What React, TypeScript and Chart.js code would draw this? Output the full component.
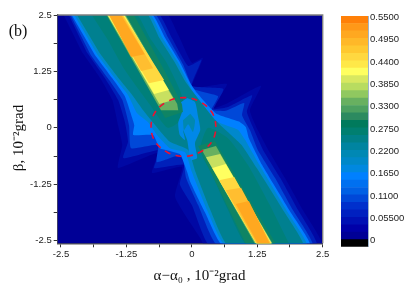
import React, { useEffect, useRef } from "react";
import { Chart, registerables } from "chart.js";

Chart.register(...registerables);

type P = [number, number];

const xTicks = [-2.5, -1.875, -1.25, -0.625, 0, 0.625, 1.25, 1.875, 2.5];
const yTicks = [-2.5, -1.875, -1.25, -0.625, 0, 0.625, 1.25, 1.875, 2.5];
const labelled = [-2.5, -1.25, 0, 1.25, 2.5];
const xTitle = "α−α₀ , 10⁻²grad";
const yTitle = "β, 10⁻²grad";
const panelLabel = "(b)";

const colorbarTicks = [0, 0.055, 0.11, 0.165, 0.22, 0.275, 0.33, 0.385, 0.44, 0.495, 0.55];
const colorbarLabels = ["0", "0.05500", "0.1100", "0.1650", "0.2200", "0.2750", "0.3300", "0.3850", "0.4400", "0.4950", "0.5500"];
const colorbarEdges = [0.0025, 0.0209, 0.0392, 0.0576, 0.0759, 0.0943, 0.1127, 0.131, 0.1494, 0.1677, 0.1861, 0.2045, 0.2228, 0.2412, 0.2595, 0.2779, 0.2963, 0.3146, 0.333, 0.3513, 0.3697, 0.3881, 0.4064, 0.4248, 0.4431, 0.4615, 0.4799, 0.4982, 0.5166, 0.5349, 0.5533];
const colorbarColors = ["#000096", "#0000A8", "#0010B4", "#0020C0", "#0030CC", "#0048D8", "#0060E4", "#0070F0", "#0080FF", "#0088E0", "#0088C8", "#0088B4", "#0084A0", "#008088", "#007F70", "#007A5C", "#2C8A60", "#4CA060", "#68B060", "#90C860", "#B8DC60", "#D8E860", "#FFFF60", "#FFE848", "#FFD840", "#FFC830", "#FFB828", "#FFA820", "#FF9818", "#FF8008"];
const colorbarBelow: P = [-0.0148, 0.0025];

const plotFrame: P[] = [[-2.7, 2.7], [2.7, 2.7], [2.7, -2.7], [-2.7, -2.7]];

const contourA: P[] = [[-2.48, 2.57], [-0.51, 2.57], [-0.26, 2.06], [0, 1.44], [0.21, 1.55], [-0.03, 0.84], [0.1, 0.88], [0.67, 0.97], [0.41, 0.44], [0.69, 0.55], [1.32, 0.93], [1.11, 0.39], [1.26, -0.05], [1.46, -0.49], [1.78, -1.11], [2.12, -1.82], [2.49, -2.62], [0.25, -2.62], [0.16, -2.44], [-0.32, -1.53], [-0.19, -0.87], [-0.76, -1.0], [-0.66, -0.56], [-1.41, -0.89], [-1.33, -0.38], [-1.41, 0.06], [-1.52, 0.62], [-1.75, 1.1], [-2.1, 1.68]];
const contourB: P[] = [[-2.38, 2.57], [-0.67, 2.57], [-0.38, 1.99], [-0.07, 1.37], [0.18, 1.5], [0, 0.93], [0.6, 0.86], [0.42, 0.42], [0.69, 0.46], [1.15, 0.72], [1.05, 0.36], [1.19, -0.05], [1.36, -0.49], [1.69, -1.11], [2.03, -1.82], [2.39, -2.62], [0.35, -2.62], [0, -1.71], [-0.23, -1.25], [-0.15, -0.82], [-0.72, -0.89], [-0.61, -0.49], [-1.31, -0.67], [-1.22, -0.31], [-1.28, 0.13], [-1.41, 0.62], [-1.66, 1.1], [-2.01, 1.68]];
const contourC: P[] = [[-2.35, 2.57], [-0.74, 2.57], [-0.45, 1.99], [-0.17, 1.41], [0.04, 0.86], [0.5, 0.7], [0.38, 0.4], [0.65, 0.38], [1.0, 0.55], [0.96, 0.28], [1.11, -0.05], [1.26, -0.49], [1.59, -1.11], [1.93, -1.82], [2.31, -2.62], [0.5, -2.62], [0.12, -1.71], [-0.11, -1.11], [-0.19, -0.6], [-0.67, -0.76], [-0.65, -0.38], [-1.16, -0.45], [-1.2, 0.06], [-1.33, 0.62], [-1.58, 1.06], [-1.93, 1.61]];
const contourD: P[] = [[-2.33, 2.57], [-0.8, 2.57], [-0.51, 1.99], [-0.23, 1.46], [-0.03, 0.99], [0.1, 0.77], [0.46, 0.32], [0.9, 0.14], [1.03, 0.02], [1.09, -0.23], [1.34, -0.82], [1.88, -1.86], [2.26, -2.62], [0.6, -2.62], [0.25, -1.87], [-0.03, -1.2], [-0.09, -0.98], [-0.23, -0.58], [-0.61, -0.45], [-0.74, -0.16], [-1.12, -0.16], [-1.1, 0.06], [-1.14, 0.22], [-1.28, 0.7], [-1.52, 1.1], [-1.85, 1.61]];
const contourE: P[] = [[-2.28, 2.57], [-0.84, 2.57], [-0.56, 1.99], [-0.27, 1.46], [-0.08, 1.01], [0.06, 0.73], [0.5, 0.13], [0.88, -0.04], [1.02, -0.27], [1.29, -0.82], [1.83, -1.87], [2.2, -2.62], [0.65, -2.62], [0.29, -1.82], [0, -0.98], [-0.13, -0.54], [-0.42, -0.45], [-0.65, -0.18], [-0.84, 0.13], [-1.05, 0.33], [-1.22, 0.73], [-1.47, 1.1], [-1.81, 1.63]];
const contourF: P[] = [[-2.23, 2.57], [-0.89, 2.57], [-0.62, 1.99], [-0.33, 1.46], [-0.13, 1.04], [0.02, 0.8], [0.44, 0.18], [0.77, -0.18], [0.95, -0.38], [1.24, -0.89], [1.77, -1.87], [2.13, -2.62], [0.7, -2.62], [0.34, -1.78], [0.07, -0.98], [-0.07, -0.49], [-0.42, -0.31], [-0.7, 0.06], [-0.93, 0.39], [-1.14, 0.73], [-1.4, 1.1], [-1.76, 1.65]];

const upperG: P[] = [[-1.95, 2.57], [-1.1, 2.57], [-0.8, 1.99], [-0.49, 1.46], [-0.23, 0.84], [-0.11, 0.28], [-0.46, 0], [-0.8, 0.51], [-1.28, 1.28], [-1.6, 1.94]];
const lowerG: P[] = [[1.88, -2.62], [1.07, -2.62], [0.69, -1.82], [0.39, -1.05], [0.16, -0.49], [0.31, 0], [0.69, -0.23], [1.07, -0.82], [1.49, -1.71]];

const wiggleBlue: P[] = [[-0.09, 0.66], [0.06, 0.57], [0.12, 0.24], [0.16, -0.05], [0.06, -0.34], [0.1, -0.67], [-0.02, -0.71], [-0.09, -0.27], [-0.17, -0.05], [-0.13, -0.27], [-0.23, -0.16], [-0.26, 0.11], [-0.19, 0.35], [-0.23, 0.55]];
const wiggleTeal: P[] = [[-0.03, 0.31], [0.06, 0.17], [0.02, -0.09], [-0.07, 0.08], [-0.15, -0.05], [-0.17, 0.17]];

const upperH: P[] = [[-1.68, 2.57], [-1.14, 2.57], [-0.53, 1.28], [-0.19, 0.53], [-0.17, 0.35], [-0.51, 0.22]];
const upperI: P[] = [[-1.66, 2.57], [-1.3, 2.57], [-0.28, 0.53], [-0.26, 0.39], [-0.59, 0.39]];
const upperJ: P[] = [[-1.65, 2.57], [-1.32, 2.57], [-0.34, 0.62], [-0.62, 0.53]];
const upperK: P[] = [[-1.64, 2.57], [-1.33, 2.57], [-0.44, 0.84], [-0.72, 0.75]];
const upperL: P[] = [[-1.63, 2.57], [-1.35, 2.57], [-0.53, 1.06], [-0.82, 0.99]];
const upperM: P[] = [[-1.62, 2.57], [-1.36, 2.57], [-0.74, 1.32], [-0.97, 1.26]];
const upperN: P[] = [[-1.61, 2.57], [-1.39, 2.57], [-0.9, 1.63], [-1.16, 1.57]];

const lowerH: P[] = [[1.63, -2.62], [0.44, -0.29], [0.12, -0.4], [1.05, -2.62]];
const lowerI: P[] = [[1.57, -2.62], [0.46, -0.4], [0.19, -0.49], [1.23, -2.62]];
const lowerJ: P[] = [[1.56, -2.62], [0.54, -0.58], [0.27, -0.65], [1.25, -2.62]];
const lowerK: P[] = [[1.55, -2.62], [0.65, -0.8], [0.39, -0.89], [1.26, -2.62]];
const lowerL: P[] = [[1.54, -2.62], [0.81, -1.09], [0.52, -1.16], [1.26, -2.62]];
const lowerM: P[] = [[1.53, -2.62], [0.94, -1.33], [0.65, -1.38], [1.27, -2.62]];
const lowerN: P[] = [[1.51, -2.62], [1.09, -1.62], [0.84, -1.69], [1.29, -2.62]];

const dashedCircle: P[] = [[0.46, 0.02], [0.44, 0.19], [0.38, 0.35], [0.28, 0.48], [0.15, 0.58], [0, 0.65], [-0.16, 0.67], [-0.32, 0.65], [-0.47, 0.58], [-0.6, 0.48], [-0.7, 0.35], [-0.76, 0.19], [-0.78, 0.02], [-0.76, -0.15], [-0.7, -0.31], [-0.6, -0.44], [-0.47, -0.54], [-0.32, -0.61], [-0.16, -0.63], [0, -0.61], [0.15, -0.54], [0.28, -0.44], [0.38, -0.31], [0.44, -0.15], [0.46, 0.02]];

// back-to-front paint order
const layers: { shape: P[]; color: string; curve: number }[] = [
  { shape: plotFrame, color: "#000096", curve: 0 },
  { shape: contourA, color: "#0008A4", curve: 0.15 },
  { shape: contourB, color: "#0020BA", curve: 0.15 },
  { shape: contourC, color: "#0048D8", curve: 0.15 },
  { shape: contourD, color: "#0080FF", curve: 0.15 },
  { shape: contourE, color: "#0088CC", curve: 0.15 },
  { shape: contourF, color: "#008090", curve: 0.15 },
  { shape: upperG, color: "#00807A", curve: 0.2 },
  { shape: lowerG, color: "#00807A", curve: 0.2 },
  { shape: wiggleBlue, color: "#0088E8", curve: 0.2 },
  { shape: wiggleTeal, color: "#0088B0", curve: 0.2 },
  { shape: upperH, color: "#0F8464", curve: 0 },
  { shape: lowerH, color: "#0F8464", curve: 0 },
  { shape: upperI, color: "#68B060", curve: 0 },
  { shape: lowerI, color: "#68B060", curve: 0 },
  { shape: upperJ, color: "#C8E060", curve: 0 },
  { shape: lowerJ, color: "#C8E060", curve: 0 },
  { shape: upperK, color: "#FFFF60", curve: 0 },
  { shape: lowerK, color: "#FFFF60", curve: 0 },
  { shape: upperL, color: "#FFD840", curve: 0 },
  { shape: lowerL, color: "#FFD840", curve: 0 },
  { shape: upperM, color: "#FFBE30", curve: 0 },
  { shape: lowerM, color: "#FFBE30", curve: 0 },
  { shape: upperN, color: "#FFA820", curve: 0 },
  { shape: lowerN, color: "#FFA820", curve: 0 },
];

const toXY = (pts: P[]) => pts.map(([x, y]) => ({ x, y }));

const framePlugin = {
  id: "frameAndText",
  afterDatasetsDraw(chart: any) {
    const { ctx, chartArea: a } = chart;
    ctx.save();
    ctx.strokeStyle = "#808080";
    ctx.lineWidth = 1.4;
    ctx.beginPath();
    ctx.moveTo(a.left, a.top);
    ctx.lineTo(a.right, a.top);
    ctx.lineTo(a.right, a.bottom);
    ctx.stroke();
    ctx.restore();
  },
  afterDraw(chart: any) {
    const { ctx } = chart;
    ctx.save();
    ctx.fillStyle = "#111";
    ctx.textBaseline = "middle";
    ctx.textAlign = "center";
    ctx.font = '16px "Liberation Serif"';
    ctx.fillText(panelLabel, 18, 32);
    ctx.font = '15px "Liberation Serif"';
    ctx.fillText(xTitle, 199.5, 276);
    ctx.translate(19, 138);
    ctx.rotate(-Math.PI / 2);
    ctx.fillText(yTitle, 0, 0);
    ctx.restore();
  },
};

const axisFont = { family: '"Liberation Sans"', size: 9.5 };

export default function App() {
  const mainRef = useRef<HTMLCanvasElement>(null);
  const barRef = useRef<HTMLCanvasElement>(null);

  useEffect(() => {
    const tickOptions = {
      font: axisFont,
      color: "#222",
      autoSkip: false,
      maxRotation: 0,
      callback: (v: number) => (labelled.includes(v) ? String(v) : ""),
    };
    const main = new Chart(mainRef.current!, {
      type: "scatter",
      data: {
        datasets: [
          ...layers.map((l, i) => ({
            data: toXY(l.shape),
            showLine: true,
            fill: "shape",
            backgroundColor: l.color,
            borderWidth: 0,
            pointRadius: 0,
            tension: l.curve,
            order: layers.length - i + 1,
          })),
          {
            data: toXY(dashedCircle),
            showLine: true,
            fill: false,
            borderColor: "#EE1030",
            borderWidth: 1.6,
            borderDash: [6, 5.5],
            tension: 0.4,
            pointRadius: 0,
            order: 0,
          },
        ],
      } as any,
      options: {
        responsive: false,
        animation: false,
        layout: { autoPadding: false, padding: { left: 0, right: 92.3, top: 15, bottom: 0 } },
        plugins: { legend: { display: false }, tooltip: { enabled: false } },
        scales: {
          x: {
            type: "linear",
            min: -2.563,
            max: 2.5,
            afterFit: (s: any) => { s.height = 50.7; },
            afterBuildTicks: (s: any) => { s.ticks = xTicks.map((value) => ({ value })); },
            grid: { drawOnChartArea: false, drawTicks: true, tickLength: 4, color: "#333" },
            border: { color: "#555", width: 1.4 },
            ticks: { ...tickOptions, padding: 1 },
          },
          y: {
            type: "linear",
            min: -2.558,
            max: 2.5,
            afterFit: (s: any) => { s.width = 57.7; },
            afterBuildTicks: (s: any) => { s.ticks = yTicks.map((value) => ({ value })); },
            grid: { drawOnChartArea: false, drawTicks: true, tickLength: 4, color: "#333" },
            border: { color: "#555", width: 1.4 },
            ticks: { ...tickOptions, padding: 2 },
          },
        },
      } as any,
      plugins: [framePlugin],
    });

    const bar = new Chart(barRef.current!, {
      type: "bar",
      data: {
        labels: ["levels"],
        datasets: [
          { data: [colorbarBelow], backgroundColor: "#000000", stack: "c", barPercentage: 1, categoryPercentage: 1, borderWidth: 0 },
          ...colorbarColors.map((c, i) => ({
            data: [[colorbarEdges[i], colorbarEdges[i + 1]]],
            backgroundColor: c,
            stack: "c",
            barPercentage: 1,
            categoryPercentage: 1,
            borderWidth: 0,
          })),
        ],
      } as any,
      options: {
        responsive: false,
        animation: false,
        layout: { autoPadding: false, padding: { left: 341, right: 0, top: 16, bottom: 47.3 } },
        plugins: { legend: { display: false }, tooltip: { enabled: false } },
        scales: {
          x: { display: false, stacked: true },
          y: {
            type: "linear",
            position: "right",
            stacked: false,
            min: colorbarBelow[0],
            max: colorbarEdges[colorbarEdges.length - 1],
            afterFit: (s: any) => { s.width = 47; },
            afterBuildTicks: (s: any) => { s.ticks = colorbarTicks.map((value) => ({ value })); },
            grid: { drawOnChartArea: false, drawTicks: false },
            border: { color: "#9DB4CC", width: 1 },
            ticks: {
              font: { family: '"Liberation Sans"', size: 9.5 },
              color: "#222",
              padding: 2,
              autoSkip: false,
              callback: (v: number) => colorbarLabels[colorbarTicks.indexOf(v)],
            },
          },
        },
      } as any,
    });

    return () => {
      main.destroy();
      bar.destroy();
    };
  }, []);

  return (
    <div style={{ position: "fixed", left: 0, top: 0, width: 415, height: 294, background: "#fff" }}>
      <canvas ref={mainRef} width={415} height={294} style={{ position: "absolute", left: 0, top: 0 }} />
      <canvas ref={barRef} width={415} height={294} style={{ position: "absolute", left: 0, top: 0 }} />
    </div>
  );
}
